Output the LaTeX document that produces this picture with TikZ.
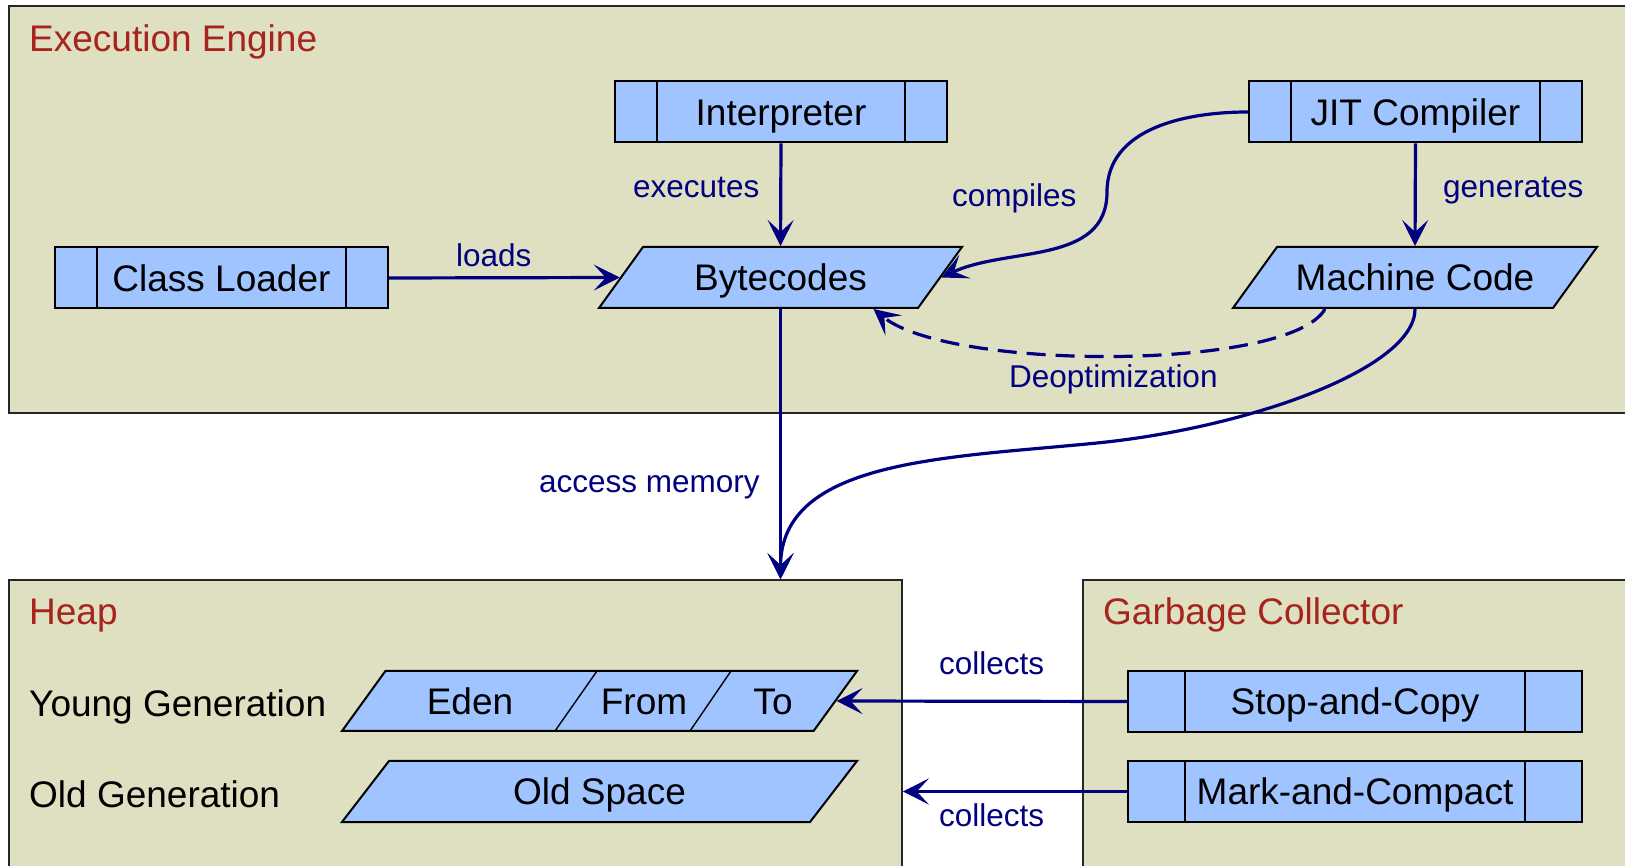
\documentclass[tikz,border=0pt]{standalone}
\usepackage{fontspec}
\setmainfont{Liberation Sans}
\usetikzlibrary{shapes.geometric,arrows.meta}

\definecolor{panelbg}{RGB}{223,223,193}
\definecolor{cellblue}{RGB}{160,196,255}
\definecolor{flow}{RGB}{0,0,128}
\definecolor{headred}{RGB}{166,36,28}

\newcommand{\boxfont}{\fontsize{37}{44}\selectfont}
\newcommand{\edgefont}{\fontsize{31.5}{38}\selectfont}

\begin{document}
\begin{tikzpicture}[x=1pt,y=1pt,
  panel/.style={draw=black!85, line width=1.6pt, fill=panelbg, inner sep=0pt},
  proc/.style 2 args={draw, line width=2pt, fill=cellblue, minimum width=#1,
    minimum height=61pt, inner sep=0pt, text height=26.5pt, text depth=0pt,
    font=\boxfont,
    path picture={\draw[line width=1.3pt]
      ([xshift=#2]path picture bounding box.north west) -- ([xshift=#2]path picture bounding box.south west)
      ([xshift=-#2]path picture bounding box.north east) -- ([xshift=-#2]path picture bounding box.south east);}},
  % parallelogram: total width, vertical padding, left angle, right angle
  para/.style n args={4}{shape=trapezium, trapezium left angle=#3,
    trapezium right angle=#4, trapezium stretches body, draw, line width=2pt,
    fill=cellblue, minimum width=#1, inner xsep=0pt, inner ysep=#2,
    text height=26.5pt, text depth=0pt, font=\boxfont},
  boxtext/.style={inner sep=0pt, text height=26.5pt, text depth=0pt, font=\boxfont},
  paneltitle/.style={anchor=base west, inner sep=0pt, font=\boxfont, text=headred},
  rowtitle/.style={anchor=base west, inner sep=0pt, font=\boxfont},
  edgelabel/.style={anchor=base west, inner sep=0pt, font=\edgefont, text=flow},
  flowline/.style={draw=flow, line width=3.2pt, -{Stealth[length=26pt,width=26pt,inset=12pt]}},
]
\path[use as bounding box] (0,0) rectangle (1625,865);
\fill[white] (0,0) rectangle (1625,865);
\clip (0,0) rectangle (1625,865);

% containers
\node[panel, minimum width=1636pt, minimum height=407pt] (engine) at (827,655.5) {};
\node[panel, minimum width=893pt, minimum height=305pt] (heap) at (455.5,132.5) {};
\node[panel, minimum width=562pt, minimum height=305pt] (gc) at (1364,132.5) {};

\node[paneltitle] (engtitle) at (29,813) {Execution Engine};
\node[paneltitle] (heaptitle) at (29,240) {Heap};
\node[paneltitle] (gctitle) at (1103,240) {Garbage Collector};

% execution engine
\node[proc={333pt}{42pt}] (loader) at (221.5,587) {Class Loader};
\node[proc={332pt}{42pt}] (interp) at (781,753) {Interpreter};
\node[proc={333pt}{42pt}] (jit) at (1415.5,753) {JIT Compiler};
\node[para={363pt}{17.25pt}{54.2}{125.8}] (bytecodes) at (780.5,587.5) {Bytecodes};
\node[para={364pt}{17.25pt}{54.2}{125.8}] (machine) at (1415,587.5) {Machine Code};

% heap
\node[rowtitle] (younglbl) at (29,148) {Young Generation};
\node[rowtitle] (oldlbl) at (29,58) {Old Generation};
\node[para={515pt}{16.75pt}{54.1}{125.9}] (young) at (599.5,164) {};
\draw[line width=1.4pt]
  ([shift={(-2.5,30)}]young.center) -- ([shift={(-44.5,-30)}]young.center)
  ([shift={(131.5,30)}]young.center) -- ([shift={(90.5,-30)}]young.center);
\node[boxtext] (eden) at (470,164) {Eden};
\node[boxtext] (from) at (644,164) {From};
\node[boxtext] (to) at (773,164) {To};
\node[para={515pt}{17.25pt}{52.4}{127.6}] (old) at (599.5,73.5) {Old Space};

% garbage collector
\node[proc={454pt}{57pt}] (copy) at (1355,163.5) {Stop-and-Copy};
\node[proc={454pt}{57pt}] (compact) at (1355,73.5) {Mark-and-Compact};

% connectors
\draw[flowline] (loader.east) -- (bytecodes.west);
\draw[flowline] (interp.south) -- (bytecodes.north);
\draw[flowline] (jit.south) -- (machine.north);
\coordinate (bend) at (1107,673);
\draw[flowline] (jit.west) to[out=180,in=90] (bend) to[out=-90,in=25] (bytecodes.east);
\draw[flowline, dash pattern=on 19pt off 10pt]
  ([xshift=-90pt]machine.south) .. controls +(-35,-62) and +(76,-62) .. ([xshift=93pt]bytecodes.south);
\draw[flowline] (bytecodes.south) -- (bytecodes.south |- heap.north);
\coordinate (dip) at (1097,422);
\draw[flowline] (machine.south) .. controls +(0,-60) and +(150,15) .. (dip)
  .. controls +(-150,-15) and +(0,120) .. (bytecodes.south |- heap.north);
\draw[flowline] (copy.west) -- (young.east);
\draw[flowline] (compact.west) -- (compact.west -| heap.east);

% connector labels
\node[edgelabel] (lloads) at (456,598) {loads};
\node[edgelabel] (lexec) at (633,667) {executes};
\node[edgelabel] (lcomp) at (952,658) {compiles};
\node[edgelabel] (lgen) at (1443,667) {generates};
\node[edgelabel] (ldeopt) at (1009,477) {Deoptimization};
\node[edgelabel] (lmem) at (539,372) {access memory};
\node[edgelabel] (lcoll1) at (939,190) {collects};
\node[edgelabel] (lcoll2) at (939,39) {collects};
\end{tikzpicture}
\end{document}
